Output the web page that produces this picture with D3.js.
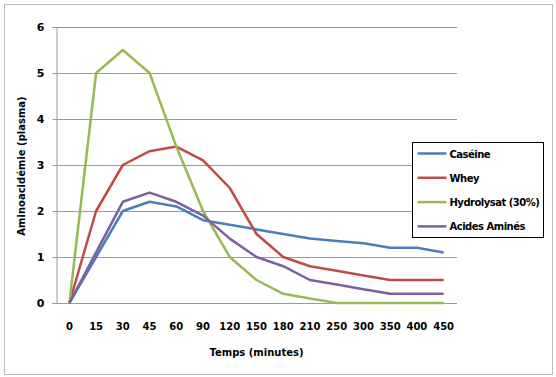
<!DOCTYPE html>
<html>
<head>
<meta charset="utf-8">
<script src="https://cdn.jsdelivr.net/npm/d3@7"></script>
<style>
  body { margin: 0; background: #fff; }
  text { font-family: "DejaVu Sans", sans-serif; font-weight: bold; font-size: 10px; fill: #000; }
</style>
</head>
<body>
<div id="chart"></div>
<script>
// Temps (minutes)
const categories = ["0", "15", "30", "45", "60", "90", "120", "150", "180", "210", "250", "300", "350", "400", "450"];
const yTicks = [0, 1, 2, 3, 4, 5, 6];

const caseine = [0, 1.0, 2.0, 2.2, 2.1, 1.8, 1.7, 1.6, 1.5, 1.4, 1.35, 1.3, 1.2, 1.2, 1.1];
const whey = [0, 2.0, 3.0, 3.3, 3.4, 3.1, 2.5, 1.5, 1.0, 0.8, 0.7, 0.6, 0.5, 0.5, 0.5];
const hydrolysat = [0, 5.0, 5.5, 5.0, 3.4, 2.0, 1.0, 0.5, 0.2, 0.1, 0, 0, 0, 0, 0];
const acidesAmines = [0, 1.1, 2.2, 2.4, 2.2, 1.9, 1.4, 1.0, 0.8, 0.5, 0.4, 0.3, 0.2, 0.2, 0.2];

const seriesNames = ["Caséine", "Whey", "Hydrolysat (30%)", "Acides Aminés"];
const seriesValues = [caseine, whey, hydrolysat, acidesAmines];
const seriesColors = ["#4a7ebb", "#be4b48", "#98b954", "#7d60a0"];

const width = 556;
const height = 377;
const margin = { top: 27, right: 99, bottom: 74, left: 56 };

const svg = d3.select("#chart").append("svg")
    .attr("width", width)
    .attr("height", height);

// Outer chart border
svg.append("rect")
    .attr("x", 4.5).attr("y", 4.5)
    .attr("width", 548).attr("height", 370)
    .attr("fill", "none")
    .attr("stroke", "#777")
    .attr("stroke-dasharray", "1,1");

const x = d3.scalePoint()
    .domain(categories)
    .range([margin.left, width - margin.right])
    .padding(0.5);

const y = d3.scaleLinear()
    .domain([0, 6])
    .range([height - margin.bottom, margin.top]);

// Gridlines
svg.append("g")
    .selectAll("line")
    .data(yTicks)
    .join("line")
    .attr("x1", margin.left)
    .attr("x2", width - margin.right)
    .attr("y1", d => Math.round(y(d)) + 0.5)
    .attr("y2", d => Math.round(y(d)) + 0.5)
    .attr("stroke", "#9a9a9a")
    .attr("stroke-width", 1);

// Y axis
const yAxis = svg.append("g")
    .attr("transform", `translate(${margin.left + 0.5}, 0)`)
    .call(d3.axisLeft(y).tickValues(yTicks).tickSize(4).tickPadding(8).tickFormat(d3.format("d")));
yAxis.select(".domain").attr("stroke", "#9a9a9a");
yAxis.selectAll(".tick line").attr("stroke", "#9a9a9a");
yAxis.selectAll(".tick text").style("font-size", "11px");

// X labels (no axis line drawn in the original beyond the 0 gridline)
svg.append("g")
    .selectAll("text")
    .data(categories)
    .join("text")
    .attr("x", d => x(d))
    .attr("y", height - margin.bottom + 27)
    .attr("text-anchor", "middle")
    .text(d => d);

// Axis titles
svg.append("text")
    .attr("x", (margin.left + width - margin.right) / 2)
    .attr("y", 356)
    .attr("text-anchor", "middle")
    .text("Temps (minutes)");

svg.append("text")
    .attr("transform", "rotate(-90)")
    .attr("x", -166)
    .attr("y", 25)
    .attr("text-anchor", "middle")
    .text("Aminoacidémie (plasma)");

// Lines
const line = d3.line()
    .x((d, i) => x(categories[i]))
    .y(d => y(d));

svg.append("g")
    .selectAll("path")
    .data(seriesValues)
    .join("path")
    .attr("d", d => line(d))
    .attr("fill", "none")
    .attr("stroke", (d, i) => seriesColors[i])
    .attr("stroke-width", 2.5)
    .attr("stroke-linejoin", "round");

// Legend
const legend = svg.append("g")
    .attr("transform", "translate(412.5, 142.5)");

legend.append("rect")
    .attr("width", 131)
    .attr("height", 95)
    .attr("fill", "#fff")
    .attr("stroke", "#000");

seriesNames.forEach((name, i) => {
    const g = legend.append("g").attr("transform", `translate(0, ${11 + i * 24.3})`);
    g.append("line")
        .attr("x1", 5).attr("x2", 34)
        .attr("stroke", seriesColors[i])
        .attr("stroke-width", 2.5);
    g.append("text")
        .attr("x", 37)
        .attr("y", 4)
        .style("letter-spacing", "-0.5px")
        .text(name);
});
</script>
</body>
</html>
